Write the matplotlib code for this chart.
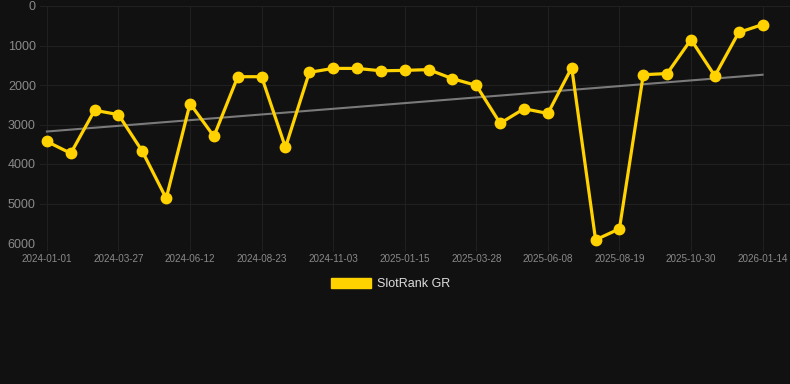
import matplotlib
matplotlib.use('Agg')
import matplotlib.pyplot as plt
from matplotlib.patches import Patch
import numpy as np

# rank values per period (lower is better, axis inverted)
rank = [3430, 3730, 2640, 2750, 3680, 4870, 2470, 3300, 1790, 1790,
        3580, 1680, 1580, 1580, 1640, 1630, 1610, 1840, 2010, 2970,
        2600, 2720, 1560, 5920, 5640, 1740, 1710, 850, 1770, 670, 470]
tick_labels = ['2024-01-01', '2024-03-27', '2024-06-12', '2024-08-23', '2024-11-03',
               '2025-01-15', '2025-03-28', '2025-06-08', '2025-08-19', '2025-10-30',
               '2026-01-14']
series_name = 'SlotRank GR'

BG = '#111111'
GRID = '#202020'
YELLOW = '#FFD200'
TEXT = '#8a8a8a'

plt.rcParams['font.family'] = ['Liberation Sans', 'DejaVu Sans']

fig = plt.figure(figsize=(7.9, 3.84), dpi=100, facecolor=BG)
ax = fig.add_axes([40 / 790, 141 / 384, 750 / 790, 237 / 384], facecolor=BG)

x = np.arange(len(rank))
# linear trend over the series
k, b = np.polyfit(x, rank, 1)
ax.plot(x, k * x + b, color='#7a7a7a', linewidth=1.5, zorder=2)
ax.plot(x, rank, color=YELLOW, linewidth=2.3, marker='o', markersize=7.5,
        zorder=3, clip_on=False)

ax.set_xlim(-0.29, 31.15)
ax.set_ylim(6000, 0)
ax.set_yticks(range(0, 6001, 1000))
ax.set_xticks(x[::3])
ax.set_xticklabels(tick_labels)

ax.grid(True, color=GRID, linewidth=0.8)
for s in ax.spines.values():
    s.set_visible(False)
ax.tick_params(axis='x', colors=GRID, labelcolor=TEXT, labelsize=7.1, length=6, width=0.8, pad=2)
ax.tick_params(axis='y', colors=GRID, labelcolor=TEXT, labelsize=9, length=0, pad=3)

handle = Patch(facecolor=YELLOW, edgecolor=YELLOW)
fig.legend([handle], [series_name], loc='center', bbox_to_anchor=(0.494, 0.26),
           frameon=False, fontsize=9, labelcolor='#dddddd',
           handlelength=3.2, handleheight=0.9, handletextpad=0.5)

fig.savefig('out.png', dpi=100, facecolor=BG)
